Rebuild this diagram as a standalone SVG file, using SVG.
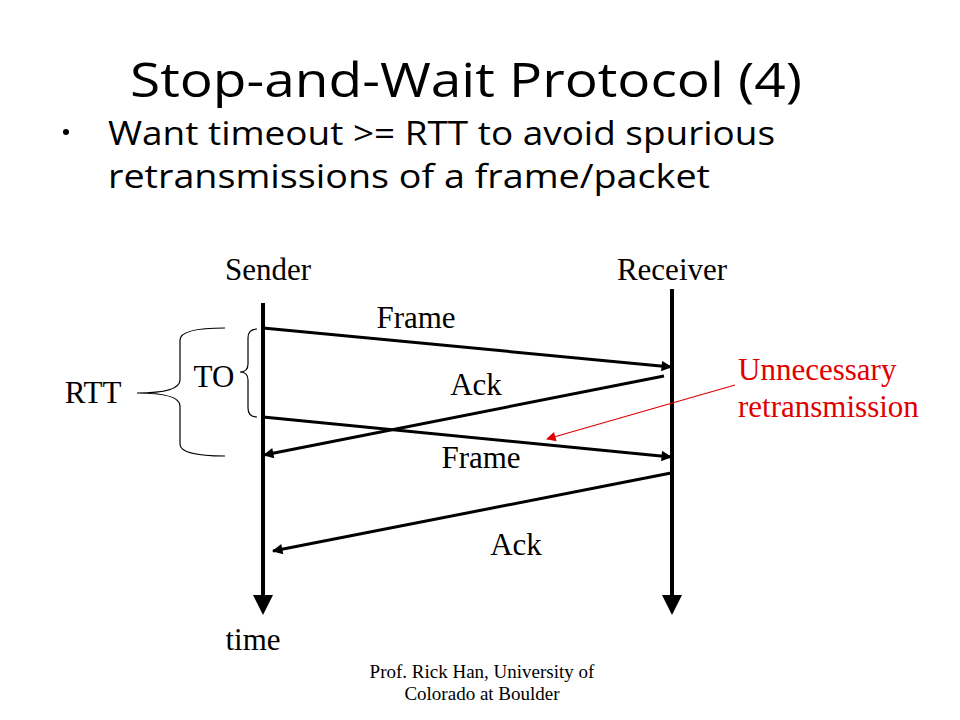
<svg xmlns="http://www.w3.org/2000/svg" width="960" height="720" viewBox="0 0 960 720">
<style>
.t{font-family:"Liberation Serif","Times New Roman",serif;font-size:31px;fill:#000}
.r{fill:#e00000}
.f{font-size:19px}
.h{font-family:"Open Sans","DejaVu Sans",sans-serif;fill:#000}
.ln{stroke:#000;stroke-width:4;fill:none}
.msg{stroke:#000;stroke-width:3;fill:none;marker-end:url(#ah)}
.br{stroke:#000;stroke-width:1.2;fill:none}
</style>
<defs>
<marker id="ah" viewBox="0 0 10 10" refX="9" refY="5" markerWidth="4.5" markerHeight="3.5" markerUnits="strokeWidth" orient="auto"><path d="M0,0L10,5L0,10z" fill="#000"/></marker>
<marker id="big" viewBox="0 0 10 10" refX="0" refY="5" markerWidth="5" markerHeight="6" markerUnits="strokeWidth" orient="auto"><path d="M0,0L10,5L0,10z" fill="#000"/></marker>
<marker id="rh" viewBox="0 0 10 10" refX="9" refY="5" markerWidth="10" markerHeight="8" markerUnits="strokeWidth" orient="auto"><path d="M0,0L10,5L0,10z" fill="#e00000"/></marker>
</defs>
<rect width="960" height="720" fill="#fff"/>
<g id="title">
<text class="h" x="466" y="97" font-size="48" text-anchor="middle" textLength="672" lengthAdjust="spacingAndGlyphs">Stop-and-Wait Protocol (4)</text>
</g>
<g id="bullet">
<circle cx="66" cy="132" r="3" fill="#000"/>
<text class="h" x="108" y="145" font-size="32" textLength="667" lengthAdjust="spacingAndGlyphs">Want timeout &gt;= RTT to avoid spurious</text>
<text class="h" x="108" y="188" font-size="32" textLength="602" lengthAdjust="spacingAndGlyphs">retransmissions of a frame/packet</text>
</g>
<g id="sender">
<text class="t" x="268" y="280" text-anchor="middle">Sender</text>
<line class="ln" x1="263" y1="303" x2="263" y2="595" marker-end="url(#big)"/>
<text class="t" x="253" y="650" text-anchor="middle">time</text>
</g>
<g id="receiver">
<text class="t" x="672" y="280" text-anchor="middle">Receiver</text>
<line class="ln" x1="672" y1="289" x2="672" y2="595" marker-end="url(#big)"/>
</g>
<g id="brackets">
<path class="br" d="M257,329 Q248,329 248,338 L248,364 Q248,372 240,372 Q248,372 248,380 L248,408 Q248,417 257,417"/>
<text class="t" x="214" y="387" text-anchor="middle">TO</text>
<path class="br" d="M225,328 Q180,328 180,340 L180,380 Q180,393 137,393 Q180,393 180,406 L180,444 Q180,456 225,456"/>
<text class="t" x="93" y="403" text-anchor="middle">RTT</text>
</g>
<g id="connectors">
<line class="msg" x1="263" y1="328" x2="671" y2="367"/>
<line class="msg" x1="664" y1="376" x2="264" y2="455"/>
<line class="msg" x1="263" y1="417" x2="671" y2="457"/>
<line class="msg" x1="671" y1="473" x2="273" y2="551"/>
<line x1="735" y1="385" x2="547" y2="439" stroke="#e00000" stroke-width="1.2" marker-end="url(#rh)"/>
</g>
<g id="labels">
<text class="t" x="416" y="328" text-anchor="middle">Frame</text>
<text class="t" x="476" y="395" text-anchor="middle">Ack</text>
<text class="t" x="481" y="468" text-anchor="middle">Frame</text>
<text class="t" x="516" y="555" text-anchor="middle">Ack</text>
<text class="t r" x="738" y="380">Unnecessary</text>
<text class="t r" x="738" y="417">retransmission</text>
</g>
<g id="footer">
<text class="t f" x="482" y="678" text-anchor="middle">Prof. Rick Han, University of</text>
<text class="t f" x="482" y="700" text-anchor="middle">Colorado at Boulder</text>
</g>
</svg>
